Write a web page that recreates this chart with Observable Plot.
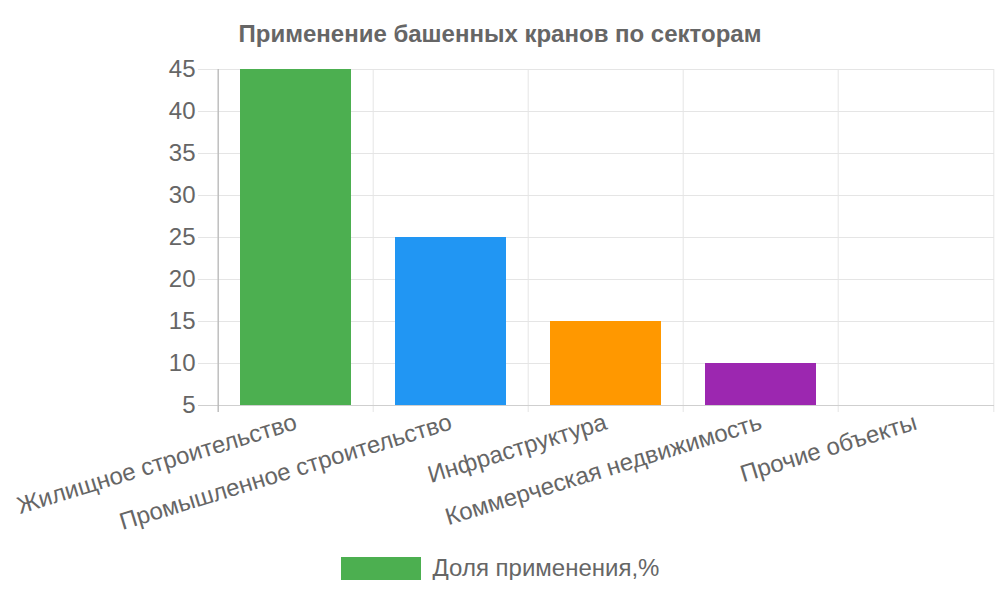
<!DOCTYPE html>
<html>
<head>
<meta charset="utf-8">
<script src="https://cdn.jsdelivr.net/npm/d3@7"></script>
<script src="https://cdn.jsdelivr.net/npm/@observablehq/plot@0.6"></script>
<style>
  body { margin: 0; background: #fff; font-family: "Liberation Sans", Arial, sans-serif; }
  #title { height: 50px; box-sizing: border-box; padding-top: 22px; line-height: 24px; font-size: 24px; font-weight: bold; color: #666; text-align: center; }
  #legend { margin-top: 16px; display: flex; justify-content: center; align-items: center; gap: 12px; color: #666; font-size: 24px; line-height: 24px; }
  #legend .sw { width: 80px; height: 23px; }
  svg { display: block; }
</style>
</head>
<body>
<div id="title">Применение башенных кранов по секторам</div>
<div id="chart"></div>
<div id="legend"><div class="sw"></div><span>Доля применения,%</span></div>
<script>
const categories = ["Жилищное строительство", "Промышленное строительство", "Инфраструктура", "Коммерческая недвижимость", "Прочие объекты"];
const values = [45, 25, 15, 10, 5];
const colors = ["#4CAF50", "#2196F3", "#FF9800", "#9C27B0", "#F44336"];
const yTicks = [5, 10, 15, 20, 25, 30, 35, 40, 45];
const seriesName = "Доля применения,%";

const data = categories.map((c, i) => ({category: c, value: values[i], color: colors[i]}));
document.querySelector("#legend .sw").style.background = colors[0];

const W = 1000, H = 490, mL = 216, mR = 6, mT = 19, mB = 135;
const half = (W - mL - mR) / categories.length / 2;

const chart = Plot.plot({
  width: W, height: H,
  marginLeft: mL, marginRight: mR, marginTop: mT, marginBottom: mB,
  style: {fontFamily: "Liberation Sans, Arial, sans-serif", color: "#666", background: "#fff"},
  x: {domain: categories, padding: 0, label: null},
  y: {domain: [5, 45], ticks: yTicks, label: null},
  marks: [
    Plot.ruleY(yTicks, {y: d => d, stroke: "#e5e5e5", strokeWidth: 1, insetLeft: -18}),
    Plot.ruleX(categories, {x: d => d, dx: -half, stroke: "#e5e5e5", insetBottom: -7}),
    Plot.ruleX(categories.slice(-1), {x: d => d, dx: half, stroke: "#e5e5e5", insetBottom: -7}),
    Plot.barY(data, {x: "category", y1: 5, y2: "value", fill: "color", insetLeft: 22, insetRight: 22}),
    Plot.ruleY([5], {stroke: "#cfcfcf", strokeWidth: 1.2, insetLeft: -18}),
    Plot.ruleX(categories.slice(0, 1), {x: d => d, dx: -half, stroke: "#b5b5b5", strokeWidth: 1.2, insetBottom: -7}),
    Plot.axisY({ticks: yTicks, tickSize: 0, tickPadding: 21, fontSize: 24, fill: "#666", label: null}),
    Plot.axisX({tickSize: 0, tickPadding: 16, tickRotate: -17, fontSize: 24, fill: "#666", label: null})
  ]
});
document.getElementById("chart").appendChild(chart);
</script>
</body>
</html>
